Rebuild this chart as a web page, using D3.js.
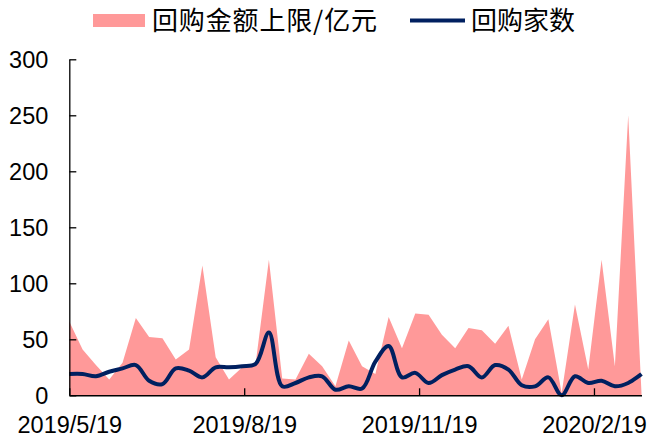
<!DOCTYPE html>
<html>
<head>
<meta charset="utf-8">
<script src="https://cdn.jsdelivr.net/npm/d3@7.9.0/dist/d3.min.js"></script>
<style>
  body { margin: 0; background: #fff; }
  svg { display: block; }
  .axis text { font-family: "Liberation Sans", Arial, sans-serif; font-size: 23.5px; fill: #000; }
  .legend text { font-family: "Noto Sans CJK SC", sans-serif; font-size: 26px; fill: #000; }
</style>
</head>
<body>
<svg width="649" height="439"></svg>
<script>
// weekly dates
const dates = [
  '2019/5/19', '2019/5/26', '2019/6/2', '2019/6/9', '2019/6/16', '2019/6/23', '2019/6/30',
  '2019/7/7', '2019/7/14', '2019/7/21', '2019/7/28', '2019/8/4', '2019/8/11', '2019/8/18',
  '2019/8/25', '2019/9/1', '2019/9/8', '2019/9/15', '2019/9/22', '2019/9/29', '2019/10/6',
  '2019/10/13', '2019/10/20', '2019/10/27', '2019/11/3', '2019/11/10', '2019/11/17', '2019/11/24',
  '2019/12/1', '2019/12/8', '2019/12/15', '2019/12/22', '2019/12/29', '2020/1/5', '2020/1/12',
  '2020/1/19', '2020/1/26', '2020/2/2', '2020/2/9', '2020/2/16', '2020/2/23', '2020/3/1',
  '2020/3/8', '2020/3/15'
];

// 回购金额上限/亿元
const amountCap = [
  66, 41, 27, 14, 29, 69, 52, 51, 32, 41, 116, 34, 14, 25, 28,
  121, 15, 14, 37, 26, 8, 49, 26, 19, 70, 42, 73, 72, 54, 42,
  60, 58, 46, 62, 14, 50, 68, 2, 81, 23, 121, 26, 250, 2
];

// 回购家数
const companyCount = [
  19, 19, 17, 21, 24, 27, 13, 10, 24, 22, 16, 25, 25, 26, 28,
  56, 8, 11, 16, 17, 5, 8, 6, 30, 44, 16, 20, 11, 18, 23,
  26, 16, 27, 23, 9, 8, 16, 0, 17, 11, 13, 8, 11, 19
];

const xTickLabels = ['2019/5/19', '2019/8/19', '2019/11/19', '2020/2/19'];
const yTicks = [0, 50, 100, 150, 200, 250, 300];

const seriesNames = ['回购金额上限/亿元', '回购家数'];
const areaColor = '#ff9999';
const lineColor = '#002060';

const parse = d3.timeParse('%Y/%m/%d');
const data = dates.map((d, i) => ({
  date: parse(d),
  amount: amountCap[i],
  count: companyCount[i]
}));

const svg = d3.select('svg');
const plotLeft = 69.3, plotRight = 641.5, plotTop = 59.3, plotBottom = 395.3;

const x = d3.scaleTime()
  .domain(d3.extent(data, (d) => d.date))
  .range([plotLeft, plotRight]);

const y = d3.scaleLinear().domain([0, 300]).range([plotBottom, plotTop]);

// area for amount
const area = d3.area()
  .x((d) => x(d.date))
  .y0(y(0))
  .y1((d) => y(d.amount));

svg.append('path')
  .datum(data)
  .attr('d', area)
  .attr('fill', areaColor);

// smoothed line for count
const line = d3.line()
  .x((d) => x(d.date))
  .y((d) => y(d.count))
  .curve(d3.curveCatmullRom.alpha(0.5));

svg.append('path')
  .datum(data)
  .attr('d', line)
  .attr('fill', 'none')
  .attr('stroke', lineColor)
  .attr('stroke-width', 4)
  .attr('stroke-linejoin', 'round');

// y axis, ticks point inward
const yAxis = svg.append('g')
  .attr('class', 'axis')
  .attr('transform', `translate(${plotLeft},0)`)
  .call(d3.axisRight(y).tickValues(yTicks).tickSize(7).tickSizeOuter(0).tickFormat(d3.format('d')));
yAxis.select('.domain').attr('stroke', '#000').attr('stroke-width', 1.3);
yAxis.selectAll('.tick line').attr('stroke', '#000').attr('stroke-width', 1.3);
yAxis.selectAll('.tick text')
  .attr('x', -21)
  .attr('dy', '0.35em')
  .attr('text-anchor', 'end');

// x axis, ticks point up
const xAxis = svg.append('g')
  .attr('class', 'axis')
  .attr('transform', `translate(0,${plotBottom})`)
  .call(d3.axisTop(x).tickValues(xTickLabels.map(parse)).tickSize(7).tickSizeOuter(0)
    .tickFormat(d3.timeFormat('%Y/%-m/%-d')));
xAxis.select('.domain').attr('stroke', '#000').attr('stroke-width', 1.6);
xAxis.selectAll('.tick line').attr('stroke', '#000').attr('stroke-width', 1.3);
xAxis.selectAll('.tick text')
  .attr('y', 38)
  .attr('dy', 0)
  .attr('text-anchor', 'middle');

// legend
const legend = svg.append('g').attr('class', 'legend');
legend.append('rect')
  .attr('x', 93).attr('y', 14).attr('width', 52).attr('height', 13)
  .attr('fill', areaColor);
legend.append('text')
  .attr('x', 152).attr('y', 30)
  .attr('textLength', 225)
  .text(seriesNames[0]);
legend.append('line')
  .attr('x1', 410).attr('x2', 465).attr('y1', 20.5).attr('y2', 20.5)
  .attr('stroke', lineColor).attr('stroke-width', 4);
legend.append('text')
  .attr('x', 471).attr('y', 30)
  .text(seriesNames[1]);
</script>
</body>
</html>
